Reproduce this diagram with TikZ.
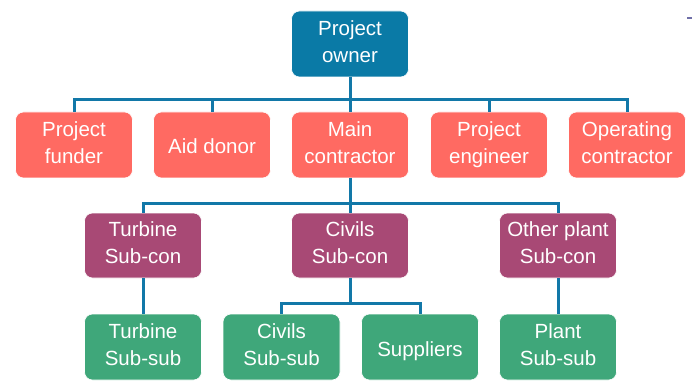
\documentclass[tikz,border=0pt]{standalone}
\usepackage{fontspec}
\setmainfont{Liberation Sans}
\definecolor{ownerc}{HTML}{0A7AA6}
\definecolor{partyc}{HTML}{FF6A62}
\definecolor{subconc}{HTML}{A84975}
\definecolor{subsubc}{HTML}{3FA77A}
\definecolor{linec}{HTML}{1278A8}
\definecolor{markc}{HTML}{6F6FA8}
% fixed first-line height and last-line depth so every label sits alike
\newcommand{\toprule}{\rule{0pt}{23pt}}
\newcommand{\botrule}{\rule[-5pt]{0pt}{5pt}}
\tikzset{
  box/.style={rectangle, rounded corners=8pt, minimum width=117pt, minimum height=66pt,
    inner sep=2pt, align=center, text=white, draw=white, line width=0.6pt,
    font=\fontsize{20.5}{27}\selectfont,
    execute at begin node=\toprule, execute at end node=\botrule},
  ownerbox/.style={box, fill=ownerc},
  partybox/.style={box, fill=partyc},
  subconbox/.style={box, fill=subconc, minimum height=65pt},
  subsubbox/.style={box, fill=subsubc},
  conn/.style={draw=linec, line width=3pt},
}
\begin{document}
\begin{tikzpicture}[x=1pt,y=-1pt]
\useasboundingbox (0,0) rectangle (698,390);
% top level
\node[ownerbox] (owner) at (350,44) {Project\\owner};
% parties reporting to the owner
\node[partybox] (funder) at (74,145)  {Project\\funder};
\node[partybox] (aid)    at (212,145) {Aid donor};
\node[partybox] (main)   at (350,145) {Main\\contractor};
\node[partybox] (eng)    at (489,145) {Project\\engineer};
\node[partybox] (opc)    at (627,145) {Operating\\contractor};
% sub-contractors
\node[subconbox] (tsc) at (143,245.5) {Turbine\\Sub-con};
\node[subconbox] (csc) at (350,245.5) {Civils\\Sub-con};
\node[subconbox] (osc) at (558,245.5) {Other plant\\Sub-con};
% sub-sub-contractors
\node[subsubbox] (tss) at (143,347)   {Turbine\\Sub-sub};
\node[subsubbox] (css) at (281.5,347) {Civils\\Sub-sub};
\node[subsubbox] (sup) at (420,347)   {Suppliers};
\node[subsubbox] (pss) at (558,347)   {Plant\\Sub-sub};
% bus bars
\coordinate (b1) at (350,100);
\coordinate (b2) at (350,203);
\coordinate (b3) at (350,303);
% owner to parties
\draw[conn] (owner.south) -- (main.north);
\draw[conn] (funder.north) |- (b1) -| (opc.north);
\draw[conn] (aid.north) -- (aid.north |- b1);
\draw[conn] (eng.north) -- (eng.north |- b1);
% main contractor to sub-contractors
\draw[conn] (main.south) -- (csc.north);
\draw[conn] (tsc.north) |- (b2) -| (osc.north);
% sub-contractors to sub-subs
\draw[conn] (tsc.south) -- (tss.north);
\draw[conn] (csc.south) -- (b3);
\draw[conn] (css.north) |- (b3) -| (sup.north);
\draw[conn] (osc.south) -- (pss.north);
% small mark at the top right
\draw[markc, line width=2pt] (687,18) -- (692,18);
\end{tikzpicture}
\end{document}
